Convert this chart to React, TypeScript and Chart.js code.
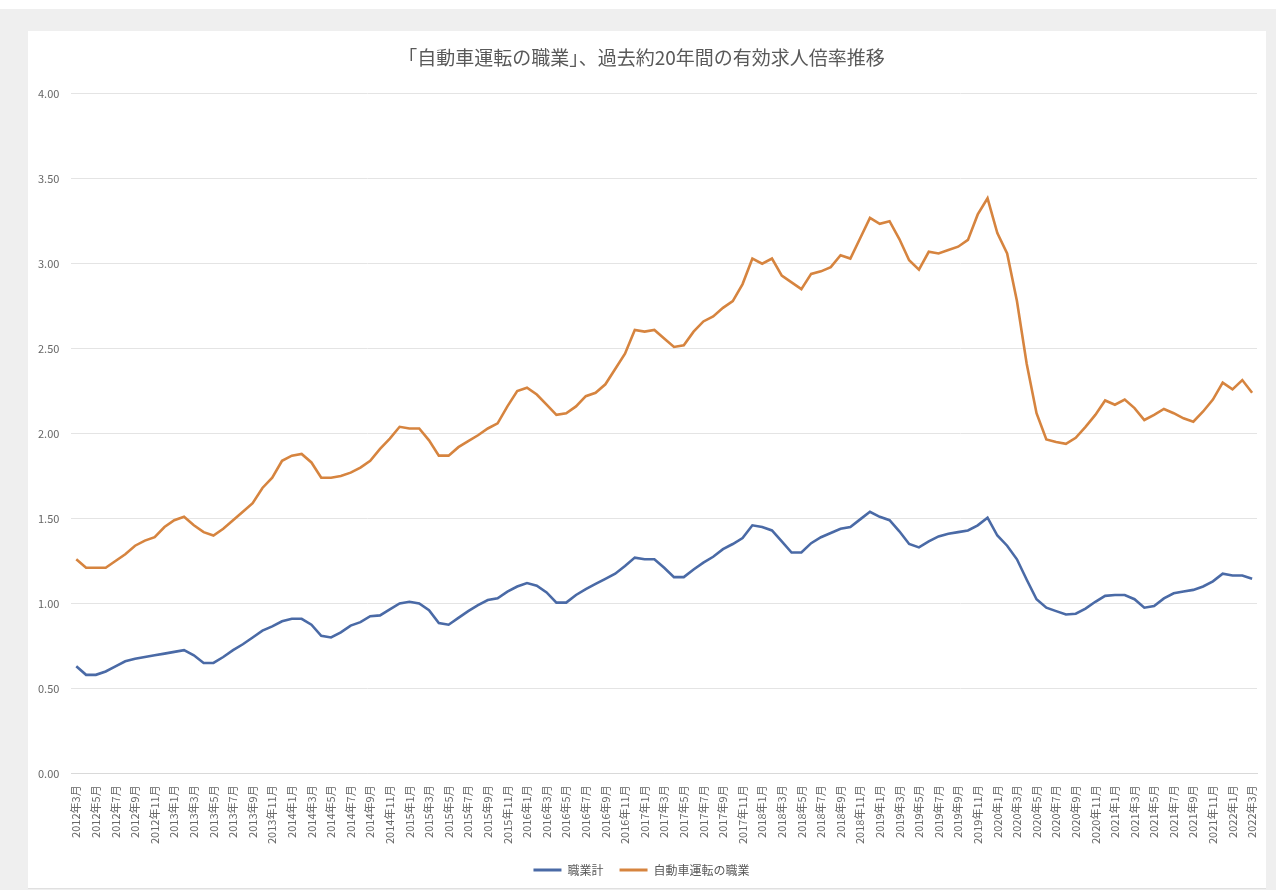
import React, { useEffect, useRef } from "react";
import { Chart, registerables } from "chart.js";

Chart.register(...registerables);

const TITLE = "「自動車運転の職業」、過去約20年間の有効求人倍率推移";

const MONTHS: string[] = [
  "2012年3月", "2012年4月", "2012年5月", "2012年6月", "2012年7月", "2012年8月", "2012年9月", "2012年10月", "2012年11月", "2012年12月",
  "2013年1月", "2013年2月", "2013年3月", "2013年4月", "2013年5月", "2013年6月", "2013年7月", "2013年8月", "2013年9月", "2013年10月", "2013年11月", "2013年12月",
  "2014年1月", "2014年2月", "2014年3月", "2014年4月", "2014年5月", "2014年6月", "2014年7月", "2014年8月", "2014年9月", "2014年10月", "2014年11月", "2014年12月",
  "2015年1月", "2015年2月", "2015年3月", "2015年4月", "2015年5月", "2015年6月", "2015年7月", "2015年8月", "2015年9月", "2015年10月", "2015年11月", "2015年12月",
  "2016年1月", "2016年2月", "2016年3月", "2016年4月", "2016年5月", "2016年6月", "2016年7月", "2016年8月", "2016年9月", "2016年10月", "2016年11月", "2016年12月",
  "2017年1月", "2017年2月", "2017年3月", "2017年4月", "2017年5月", "2017年6月", "2017年7月", "2017年8月", "2017年9月", "2017年10月", "2017年11月", "2017年12月",
  "2018年1月", "2018年2月", "2018年3月", "2018年4月", "2018年5月", "2018年6月", "2018年7月", "2018年8月", "2018年9月", "2018年10月", "2018年11月", "2018年12月",
  "2019年1月", "2019年2月", "2019年3月", "2019年4月", "2019年5月", "2019年6月", "2019年7月", "2019年8月", "2019年9月", "2019年10月", "2019年11月", "2019年12月",
  "2020年1月", "2020年2月", "2020年3月", "2020年4月", "2020年5月", "2020年6月", "2020年7月", "2020年8月", "2020年9月", "2020年10月", "2020年11月", "2020年12月",
  "2021年1月", "2021年2月", "2021年3月", "2021年4月", "2021年5月", "2021年6月", "2021年7月", "2021年8月", "2021年9月", "2021年10月", "2021年11月", "2021年12月",
  "2022年1月", "2022年2月", "2022年3月",
];

const SERIES_NAMES = ["職業計", "自動車運転の職業"];

const ALL_JOBS: number[] = [
  0.63, 0.58, 0.58, 0.60, 0.63, 0.66, 0.675, 0.685, 0.695, 0.705,
  0.715, 0.725, 0.695, 0.65, 0.65, 0.685, 0.725, 0.76, 0.80, 0.84, 0.865, 0.895,
  0.91, 0.91, 0.875, 0.81, 0.80, 0.83, 0.87, 0.89, 0.925, 0.93, 0.965, 1.00,
  1.01, 1.00, 0.96, 0.885, 0.875, 0.915, 0.955, 0.99, 1.02, 1.03, 1.07, 1.10,
  1.12, 1.105, 1.065, 1.005, 1.005, 1.05, 1.085, 1.115, 1.145, 1.175, 1.22, 1.27,
  1.26, 1.26, 1.21, 1.155, 1.155, 1.20, 1.24, 1.275, 1.32, 1.35, 1.385, 1.46,
  1.45, 1.43, 1.365, 1.30, 1.30, 1.355, 1.39, 1.415, 1.44, 1.45, 1.495, 1.54,
  1.51, 1.49, 1.425, 1.35, 1.33, 1.365, 1.395, 1.41, 1.42, 1.43, 1.46, 1.505,
  1.40, 1.34, 1.26, 1.14, 1.025, 0.975, 0.955, 0.935, 0.94, 0.97, 1.01, 1.045,
  1.05, 1.05, 1.025, 0.975, 0.985, 1.03, 1.06, 1.07, 1.08, 1.10, 1.13, 1.175,
  1.165, 1.165, 1.145,
];

const DRIVERS: number[] = [
  1.26, 1.21, 1.21, 1.21, 1.25, 1.29, 1.34, 1.37, 1.39, 1.45,
  1.49, 1.51, 1.46, 1.42, 1.40, 1.44, 1.49, 1.54, 1.59, 1.68, 1.74, 1.84,
  1.87, 1.88, 1.83, 1.74, 1.74, 1.75, 1.77, 1.80, 1.84, 1.91, 1.97, 2.04,
  2.03, 2.03, 1.96, 1.87, 1.87, 1.92, 1.955, 1.99, 2.03, 2.06, 2.16, 2.25,
  2.27, 2.23, 2.17, 2.11, 2.12, 2.16, 2.22, 2.24, 2.29, 2.38, 2.47, 2.61,
  2.60, 2.61, 2.56, 2.51, 2.52, 2.60, 2.66, 2.69, 2.74, 2.78, 2.88, 3.03,
  3.00, 3.03, 2.93, 2.89, 2.85, 2.94, 2.955, 2.98, 3.05, 3.03, 3.15, 3.27,
  3.235, 3.25, 3.145, 3.02, 2.965, 3.07, 3.06, 3.08, 3.10, 3.14, 3.29, 3.385,
  3.18, 3.06, 2.78, 2.41, 2.12, 1.965, 1.95, 1.94, 1.975, 2.04, 2.11, 2.195,
  2.17, 2.20, 2.15, 2.08, 2.11, 2.145, 2.12, 2.09, 2.07, 2.13, 2.20, 2.30,
  2.26, 2.315, 2.24,
];

const Y_MIN = 0;
const Y_MAX = 4;
const Y_STEP = 0.5;

const COLORS = ["#4A6AA6", "#D6843F"];
const FONT = "'Noto Sans CJK JP', 'Noto Sans', sans-serif";

export default function App() {
  const ref = useRef<HTMLCanvasElement | null>(null);

  useEffect(() => {
    document.body.style.margin = "0";
    if (!ref.current) return;
    Chart.defaults.font.family = FONT;
    const chart = new Chart(ref.current, {
      type: "line",
      data: {
        labels: MONTHS,
        datasets: [
          {
            label: SERIES_NAMES[0],
            data: ALL_JOBS,
            borderColor: COLORS[0],
            backgroundColor: COLORS[0],
            borderWidth: 2.6,
            pointRadius: 0,
            tension: 0,
          },
          {
            label: SERIES_NAMES[1],
            data: DRIVERS,
            borderColor: COLORS[1],
            backgroundColor: COLORS[1],
            borderWidth: 2.6,
            pointRadius: 0,
            tension: 0,
          },
        ],
      },
      options: {
        animation: false,
        responsive: true,
        maintainAspectRatio: false,
        layout: { padding: { left: -2, right: 9, top: 0, bottom: 2 } },
        plugins: {
          title: {
            display: true,
            text: TITLE,
            color: "#595959",
            font: { size: 19, weight: "normal", family: FONT },
            padding: { top: 15, bottom: 25 },
          },
          legend: {
            position: "bottom",
            labels: {
              color: "#595959",
              font: { size: 12, family: FONT },
              boxWidth: 28,
              boxHeight: 3,
              padding: 8,
              generateLabels: (c: any) =>
                Chart.defaults.plugins.legend.labels
                  .generateLabels(c)
                  .map((l: any, i: number) => ({
                    ...l,
                    lineWidth: 0,
                    text: i === 0 ? l.text + "   " : l.text,
                  })),
            },
          },
          tooltip: { enabled: false },
        },
        scales: {
          x: {
            offset: true,
            grid: { display: false, drawTicks: false },
            border: { display: true, color: "#d9d9d9", width: 1 },
            afterFit: (s: any) => {
              s.paddingRight = 0;
            },
            ticks: {
              autoSkip: false,
              maxRotation: 90,
              minRotation: 90,
              padding: 12,
              color: "#666666",
              font: { size: 11, family: FONT },
              callback: (_v: any, i: number) => (i % 2 === 0 ? MONTHS[i] : ""),
            },
          },
          y: {
            min: Y_MIN,
            max: Y_MAX,
            grid: { color: "#e4e4e4", drawTicks: false, lineWidth: 1 },
            border: { display: false },
            ticks: {
              stepSize: Y_STEP,
              padding: 12,
              color: "#666666",
              font: { size: 11, family: FONT },
              callback: (v: any) => Number(v).toFixed(2),
            },
          },
        },
      },
    });
    return () => chart.destroy();
  }, []);

  return (
    <div
      style={{
        position: "relative",
        width: 1276,
        height: 890,
        background: "#efefef",
        borderTop: "9px solid #ffffff",
        boxSizing: "border-box",
        overflow: "hidden",
      }}
    >
      <div
        style={{
          position: "absolute",
          left: 28,
          top: 22,
          width: 1238,
          height: 857,
          background: "#ffffff",
          borderBottom: "1px solid #e0e0e0",
        }}
      >
        <canvas ref={ref} />
      </div>
    </div>
  );
}
